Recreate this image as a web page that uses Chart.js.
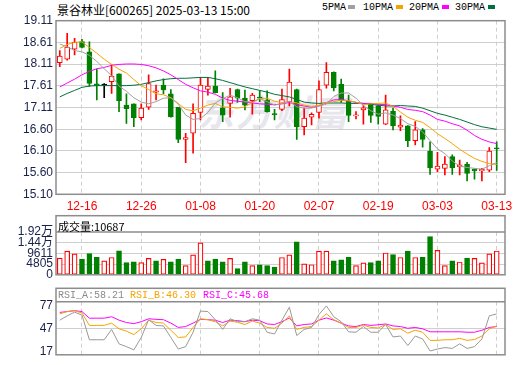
<!DOCTYPE html>
<html>
<head>
<meta charset="utf-8">
<script src="https://cdn.jsdelivr.net/npm/chart.js@4.4.1/dist/chart.umd.min.js"></script>
<style>
  body { margin: 0; background: #fff; width: 520px; height: 365px; position: relative; overflow: hidden;
         font-family: "Liberation Sans", "Noto Sans CJK SC", sans-serif; }
  canvas { position: absolute; left: 0; }
  .txt { position: absolute; white-space: nowrap; line-height: 1; }
  .sq { position: absolute; width: 7px; height: 4px; }
  #wm { left: 198px; top: 84px; font: italic bold 36px "Noto Sans CJK SC"; color: #e6e6ec; letter-spacing: 2px; }
</style>
</head>
<body>
<div id="wm" class="txt">东方财富</div>

<div class="txt" style="left:57px;top:1px;font:12px 'Noto Sans CJK SC';color:#000">景谷林业[600265] 2025-03-13 15:00</div>
<div class="txt" style="left:322px;top:2px;font:10px 'Liberation Mono';color:#000">5PMA</div>
<div class="sq" style="left:348px;top:5px;background:#a0a0a0"></div>
<div class="txt" style="left:363px;top:2px;font:10px 'Liberation Mono';color:#000">10PMA</div>
<div class="sq" style="left:396px;top:5px;background:#f5a300"></div>
<div class="txt" style="left:409px;top:2px;font:10px 'Liberation Mono';color:#000">20PMA</div>
<div class="sq" style="left:442px;top:5px;background:#ff00ff"></div>
<div class="txt" style="left:455px;top:2px;font:10px 'Liberation Mono';color:#000">30PMA</div>
<div class="sq" style="left:488px;top:5px;background:#00703c"></div>

<canvas id="kline" style="top:0;width:520px;height:215px" width="520" height="215"></canvas>
<canvas id="vol" style="top:210px;width:520px;height:75px" width="520" height="75"></canvas>
<canvas id="rsi" style="top:284px;width:520px;height:81px" width="520" height="81"></canvas>

<div class="txt" style="left:58px;top:218px;font:11px 'Noto Sans CJK SC';color:#000">成交量:10687</div>
<div class="txt" style="left:58px;top:290px;font:10px 'Liberation Mono';color:#8a8a8a">RSI_A:58.21</div>
<div class="txt" style="left:130px;top:290px;font:10px 'Liberation Mono';color:#f5a300">RSI_B:46.30</div>
<div class="txt" style="left:203px;top:290px;font:10px 'Liberation Mono';color:#ff00ff">RSI_C:45.68</div>

<script>
// trading days shown on the chart
const dates = [
  '2024-12-11','2024-12-12','2024-12-13','2024-12-16','2024-12-17','2024-12-18','2024-12-19','2024-12-20',
  '2024-12-23','2024-12-24','2024-12-25','2024-12-26','2024-12-27','2024-12-30','2024-12-31',
  '2025-01-02','2025-01-03','2025-01-06','2025-01-07','2025-01-08','2025-01-09','2025-01-10',
  '2025-01-13','2025-01-14','2025-01-15','2025-01-16','2025-01-17','2025-01-20','2025-01-21',
  '2025-01-22','2025-01-23','2025-01-24','2025-01-27','2025-02-05','2025-02-06','2025-02-07',
  '2025-02-10','2025-02-11','2025-02-12','2025-02-13','2025-02-14','2025-02-17','2025-02-18',
  '2025-02-19','2025-02-20','2025-02-21','2025-02-24','2025-02-25','2025-02-26','2025-02-27',
  '2025-02-28','2025-03-03','2025-03-04','2025-03-05','2025-03-06','2025-03-07','2025-03-10',
  '2025-03-11','2025-03-12','2025-03-13'
];
const dateTicks = [3, 11, 19, 27, 35, 43, 51, 59];

const opens = [18.14,18.22,18.45,18.63,18.39,17.65,17.62,17.70,17.88,17.16,
               17.19,16.87,17.11,17.46,17.62,17.42,17.11,16.37,16.51,16.99,
               17.52,17.60,17.10,17.20,17.52,17.32,17.26,17.34,17.28,16.96,
               17.06,17.24,17.52,16.66,16.88,16.99,17.62,17.92,17.64,17.25,
               16.91,17.05,17.19,17.15,16.72,17.02,16.65,16.68,16.34,16.59,
               16.10,15.68,15.70,15.97,15.73,15.79,15.68,15.64,15.66,16.16];
const highs = [18.42,18.82,18.70,18.68,18.62,17.99,17.66,18.09,17.88,17.42,
               17.19,17.19,17.86,17.62,17.77,17.52,17.11,16.51,17.19,17.80,
               17.80,17.95,17.45,17.55,17.53,17.51,17.43,17.49,17.49,17.06,
               17.53,17.99,17.53,17.09,16.98,17.72,18.14,17.93,17.76,17.39,
               17.01,17.16,17.20,17.16,17.39,17.09,16.91,16.69,16.78,16.62,
               16.31,16.07,15.97,16.01,15.89,15.84,15.69,15.70,16.18,16.31];
const lows  = [18.05,18.20,18.32,18.48,17.59,17.28,17.33,17.43,17.01,16.74,
               16.66,16.82,17.06,17.28,17.42,16.88,16.29,15.83,16.05,16.82,
               17.39,17.44,16.78,16.88,17.22,17.05,16.95,17.24,17.00,16.82,
               17.03,17.14,16.37,16.47,16.70,16.86,17.55,17.49,17.22,16.78,
               16.84,16.72,16.76,16.72,16.71,16.59,16.57,16.20,16.24,16.19,
               15.56,15.62,15.55,15.56,15.55,15.41,15.45,15.41,15.62,15.65];
const closes = [18.29,18.50,18.61,18.49,17.66,17.61,17.62,17.83,17.26,17.08,
                16.87,17.09,17.66,17.49,17.51,16.89,16.37,16.41,16.97,17.62,
                17.60,17.45,16.93,17.35,17.32,17.16,17.39,17.32,17.01,16.94,
                17.29,17.69,16.66,16.86,16.95,17.52,17.92,17.56,17.26,16.92,
                16.93,17.10,16.92,16.90,17.05,16.68,16.70,16.34,16.59,16.37,
                15.71,15.75,15.80,15.71,15.78,15.58,15.64,15.68,16.10,16.15];

const ma5  = [18.57,18.51,18.42,18.39,18.31,18.17,18.00,17.84,17.60,17.48,
              17.33,17.23,17.19,17.24,17.32,17.33,17.18,16.93,16.83,16.85,
              16.99,17.21,17.31,17.39,17.33,17.24,17.23,17.31,17.24,17.16,
              17.19,17.25,17.12,17.09,17.09,17.14,17.18,17.36,17.44,17.44,
              17.32,17.15,17.03,16.95,16.98,16.93,16.85,16.73,16.67,16.54,
              16.34,16.15,16.04,15.87,15.75,15.72,15.70,15.68,15.76,15.83];
const ma10 = [18.47,18.56,18.61,18.62,18.49,18.36,18.22,18.10,17.99,17.90,
              17.75,17.61,17.52,17.42,17.40,17.33,17.20,17.06,17.03,17.09,
              17.16,17.20,17.12,17.11,17.09,17.12,17.22,17.31,17.32,17.25,
              17.22,17.24,17.21,17.16,17.13,17.16,17.22,17.24,17.27,17.26,
              17.23,17.17,17.19,17.20,17.21,17.13,17.00,16.88,16.81,16.76,
              16.64,16.50,16.39,16.27,16.14,16.03,15.93,15.86,15.81,15.79];
const ma20 = [17.58,17.67,17.76,17.86,17.94,18.00,18.03,18.08,18.10,18.11,
              18.11,18.10,18.07,18.02,17.95,17.86,17.75,17.64,17.56,17.49,
              17.46,17.41,17.32,17.27,17.25,17.23,17.21,17.19,17.18,17.17,
              17.19,17.22,17.17,17.14,17.11,17.14,17.22,17.28,17.29,17.26,
              17.22,17.20,17.20,17.18,17.17,17.14,17.11,17.06,17.04,17.01,
              16.93,16.83,16.79,16.73,16.68,16.58,16.46,16.37,16.31,16.27];
const ma30 = [17.35,17.43,17.50,17.57,17.60,17.61,17.61,17.61,17.61,17.61,
              17.62,17.64,17.68,17.72,17.75,17.77,17.78,17.78,17.79,17.80,
              17.80,17.77,17.73,17.68,17.63,17.58,17.54,17.50,17.46,17.41,
              17.38,17.35,17.29,17.23,17.21,17.20,17.21,17.21,17.21,17.20,
              17.20,17.20,17.18,17.16,17.14,17.14,17.15,17.14,17.13,17.09,
              17.03,16.97,16.93,16.88,16.83,16.77,16.71,16.66,16.63,16.60];

const volumes = [7487,10603,9389,7082,9510,7892,6273,7770,10725,5463,
                 5868,5463,7366,6273,6961,5868,7082,4128,8984,14367,
                 6273,7082,5868,7366,2752,5868,4128,4533,4128,3440,
                 7770,8984,14772,4937,4533,10603,10603,6273,6678,7892,
                 4128,5342,5463,6273,9794,9106,7770,10603,7770,7892,
                 17200,11008,4128,6273,5747,7487,7366,5342,9389,10687];

const rsiA = [58.4,64.0,69.0,65.0,32.6,32.6,32.6,46.2,27.2,23.5,
              19.3,35.6,59.0,51.5,50.8,35.6,20.4,23.5,42.5,70.4,
              69.7,59.0,46.2,60.2,56.4,56.4,60.2,58.4,42.5,40.2,
              58.4,75.4,38.2,46.2,48.8,65.9,77.2,62.9,56.4,43.1,
              42.5,50.0,42.5,42.5,52.7,36.3,37.5,25.0,37.5,33.7,
              17.8,20.4,22.3,21.2,27.2,21.2,23.5,33.7,64.0,66.7];
const rsiB = [66.7,69.7,70.9,67.8,51.5,51.5,51.5,54.5,47.0,43.9,
              39.4,47.0,58.4,55.3,54.5,45.1,35.6,36.3,48.8,60.2,
              59.0,56.4,50.8,57.2,55.6,52.7,57.2,54.5,48.8,47.7,
              54.5,64.0,46.2,48.8,50.0,58.4,66.7,59.0,54.5,48.8,
              48.8,51.9,48.8,48.1,52.7,46.2,47.0,41.3,45.1,42.5,
              31.8,31.8,32.6,32.6,34.5,31.8,32.9,37.5,47.0,50.8];
const rsiC = [68.6,69.7,70.9,69.7,61.0,61.0,61.0,62.9,58.4,55.3,
              53.8,56.4,60.2,59.5,59.0,54.5,48.8,50.0,54.5,59.5,
              59.0,58.4,55.3,58.4,57.8,56.4,58.4,57.6,53.4,52.7,
              56.4,61.3,50.8,52.7,53.4,58.4,61.3,58.4,54.5,50.8,
              50.0,52.7,51.5,52.3,53.4,50.8,50.0,47.7,48.8,47.0,
              43.1,43.1,43.1,43.1,43.1,42.5,42.5,45.1,48.8,50.0];

const priceTicks  = [15.10, 15.601, 16.103, 16.604, 17.105, 17.606, 18.108, 18.609, 19.11];
const priceLabels = ['15.10','15.60','16.10','16.60','17.11','17.61','18.11','18.61','19.11'];
const volTicks  = [0, 4805, 9611, 14416, 19222];
const volLabels = ['0', '4805', '9611', '1.44万', '1.92万'];
const rsiTicks  = [17, 47, 77];

// ---- styling
const UP = '#ff0000';
const DOWN = '#008000';
const FLAT = '#000000';
const GRID = '#cfcfcf';
const AXIS_TXT = '#18224a';
const FONT = '"Liberation Sans", "Noto Sans CJK SC", sans-serif';
const X_MIN = -0.51;
const X_MAX = 60.12;

const idx = dates.map((d, i) => i);
const candleColor = closes.map((c, i) => c > opens[i] ? UP : (c < opens[i] ? DOWN : FLAT));
const volColor = closes.map((c, i) => (i === 0 || c >= closes[i - 1]) ? UP : DOWN);

const frame = {
    id: 'frame',
    afterDraw(chart, args, opts) {
        const { ctx, chartArea: a } = chart;
        const head = opts.head || 0;
        ctx.save();
        ctx.strokeStyle = '#8c8c8c';
        ctx.lineWidth = 1.5;
        ctx.strokeRect(a.left, a.top - head, a.right - a.left, a.bottom - a.top + head);
        if (head) {
            ctx.beginPath();
            ctx.moveTo(a.left, a.top);
            ctx.lineTo(a.right, a.top);
            ctx.stroke();
        }
        ctx.restore();
    }
};
Chart.register(frame);

function xScale(showLabels) {
    return {
        type: 'linear',
        min: X_MIN,
        max: X_MAX,
        offset: false,
        afterBuildTicks: s => { s.ticks = dateTicks.map(v => ({ value: v })); },
        afterFit: s => { s.height = showLabels ? 20.7 : 0; },
        grid: { color: GRID, drawTicks: false, offset: false },
        border: { display: false, dash: [4, 3] },
        ticks: {
            display: showLabels,
            autoSkip: false,
            maxRotation: 0,
            padding: 5,
            color: UP,
            font: { family: FONT, size: 12 },
            callback: v => dates[v] ? dates[v].slice(5) : ''
        }
    };
}

function yScale(min, max, ticks, labels, gridColor) {
    return {
        min: min,
        max: max,
        afterFit: s => { s.width = 56; },
        afterBuildTicks: s => { s.ticks = ticks.map(v => ({ value: v })); },
        grid: { color: gridColor, drawTicks: false },
        border: { display: false },
        ticks: {
            autoSkip: false,
            padding: 3,
            color: AXIS_TXT,
            font: { family: FONT, size: 12 },
            callback: (v, i) => labels[i]
        }
    };
}

const baseOptions = {
    responsive: false,
    animation: false,
    events: [],
    plugins: { legend: { display: false }, tooltip: { enabled: false } }
};

function maLine(values, color) {
    return {
        type: 'line',
        data: idx.map(i => ({ x: i, y: values[i] })),
        borderColor: color,
        borderWidth: 1,
        pointRadius: 0,
        tension: 0,
        order: 1
    };
}

// K-line panel
new Chart(document.getElementById('kline'), {
    type: 'bar',
    data: {
        datasets: [
            {
                data: idx.map(i => ({ x: i, y: [lows[i], highs[i]] })),
                backgroundColor: candleColor,
                barThickness: 1,
                grouped: false,
                order: 3
            },
            {
                data: idx.map(i => ({ x: i, y: [opens[i], closes[i]] })),
                backgroundColor: candleColor.map(c => c === UP ? '#ffffff' : c),
                borderColor: candleColor,
                borderWidth: 1,
                borderSkipped: false,
                barThickness: 5,
                minBarLength: 1,
                grouped: false,
                order: 2
            },
            maLine(ma5, '#a0a0a0'),
            maLine(ma10, '#f5a300'),
            maLine(ma20, '#ff00ff'),
            maLine(ma30, '#00703c')
        ]
    },
    options: {
        ...baseOptions,
        layout: { padding: { top: 20.7, right: 15, left: 0, bottom: 0 } },
        plugins: { ...baseOptions.plugins, frame: { head: 0 } },
        scales: {
            x: xScale(true),
            y: yScale(15.10, 19.11, priceTicks, priceLabels, GRID)
        }
    }
});

// volume panel
new Chart(document.getElementById('vol'), {
    type: 'bar',
    data: {
        datasets: [{
            data: idx.map(i => ({ x: i, y: volumes[i] })),
            backgroundColor: volColor.map(c => c === UP ? '#ffffff' : c),
            borderColor: volColor,
            borderWidth: 1.2,
            borderSkipped: false,
            barThickness: 5
        }]
    },
    options: {
        ...baseOptions,
        layout: { padding: { top: 22, right: 15, left: 0, bottom: 5.5 } },
        plugins: { ...baseOptions.plugins, frame: { head: 16.3 } },
        scales: {
            x: xScale(false),
            y: yScale(0, 19222, volTicks, volLabels,
                c => (c.index === 0 || c.index === volTicks.length - 1) ? 'rgba(0,0,0,0)' : GRID)
        }
    }
});

// RSI panel
new Chart(document.getElementById('rsi'), {
    type: 'line',
    data: {
        datasets: [
            { ...maLine(rsiA, '#999999') },
            { ...maLine(rsiB, '#f5a300') },
            { ...maLine(rsiC, '#ff00ff') }
        ]
    },
    options: {
        ...baseOptions,
        layout: { padding: { top: 17.7, right: 15, left: 0, bottom: 1.7 } },
        plugins: { ...baseOptions.plugins, frame: { head: 13.4 } },
        scales: {
            x: xScale(false),
            y: yScale(12.8, 82.7, rsiTicks, ['17', '47', '77'],
                c => c.index === 1 ? GRID : 'rgba(0,0,0,0)')
        }
    }
});
</script>
</body>
</html>
